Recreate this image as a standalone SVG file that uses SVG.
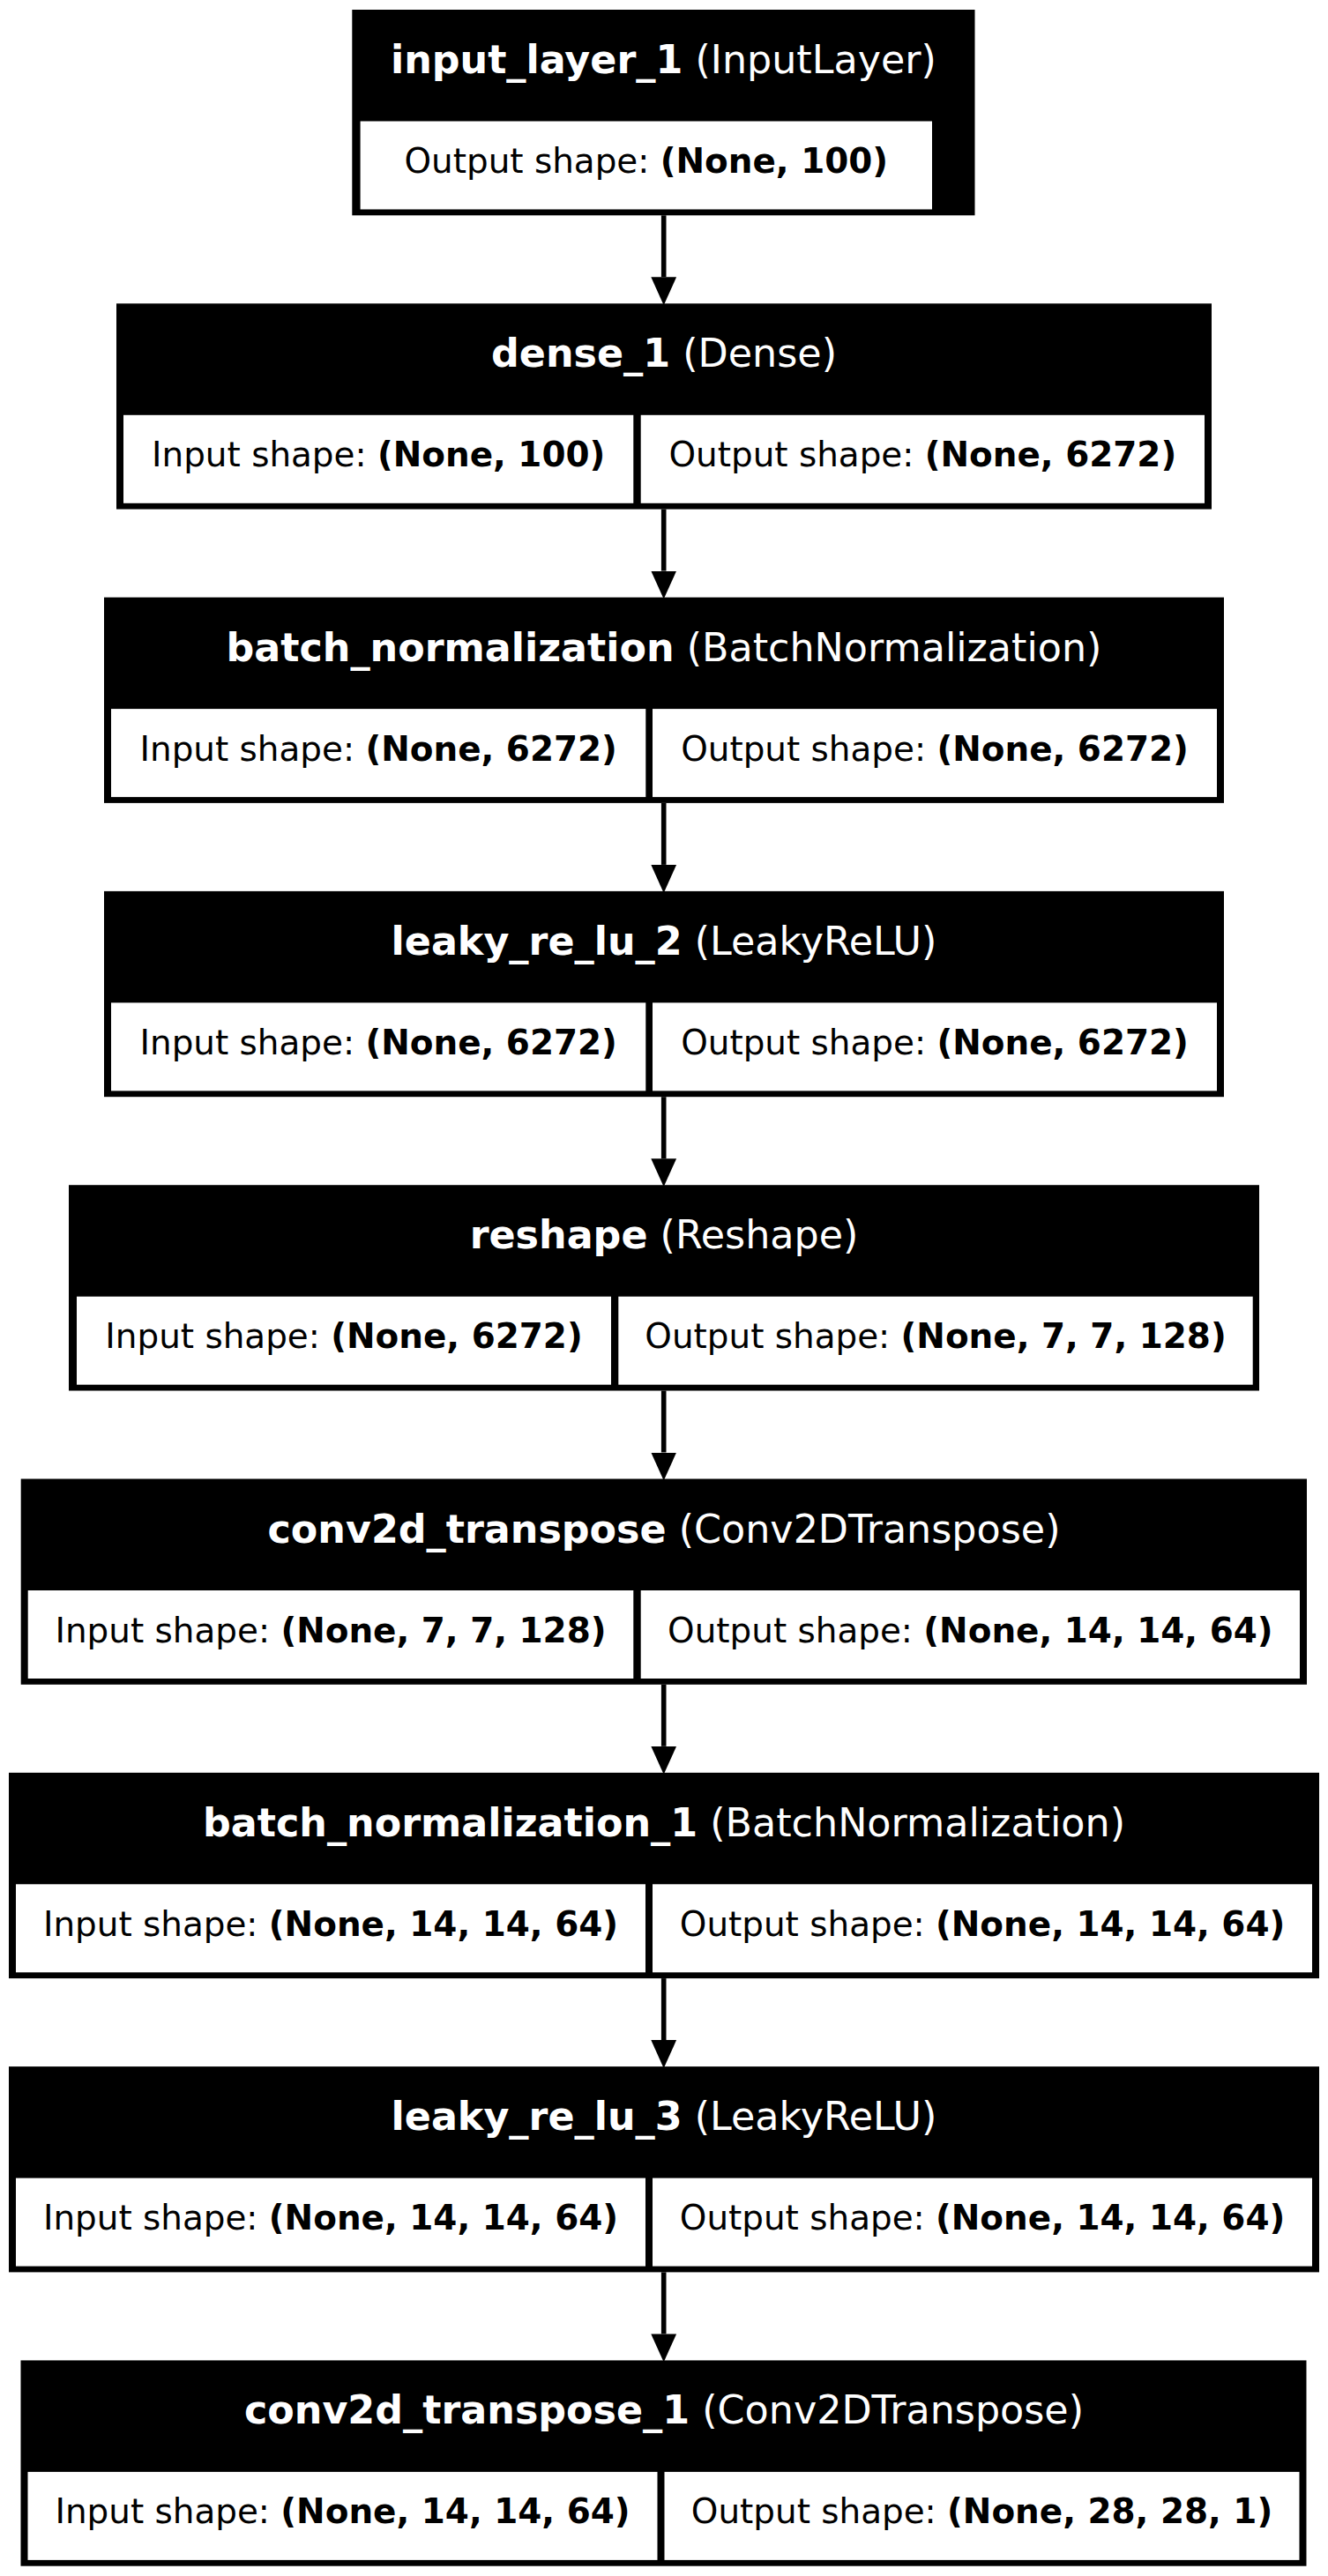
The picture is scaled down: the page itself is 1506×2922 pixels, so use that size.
<svg xmlns="http://www.w3.org/2000/svg" width="1506" height="2922" viewBox="0 0 1506 2922">
<style>
.bg{fill:#000}
.cell{fill:#fff}
.t{font-family:"DejaVu Sans",sans-serif;font-size:44.4px;fill:#fff;text-anchor:middle}
.b{font-family:"DejaVu Sans",sans-serif;font-size:38.9px;fill:#000;text-anchor:middle}
.bold{font-weight:bold}
.edge{stroke:#000;stroke-width:5.6;fill:none}
</style>
<defs>
<marker id="arr" markerUnits="userSpaceOnUse" markerWidth="32" markerHeight="30" refX="0" refY="13.5" orient="auto" viewBox="0 0 30 27">
<path d="M0,0 L30,13.5 L0,27 Z" fill="#000"/>
</marker>
</defs>
<rect width="1506" height="2922" fill="#fff"/>
<g id="edges">
<line class="edge" x1="752.7" y1="244.3" x2="752.7" y2="314.3" marker-end="url(#arr)"/>
<line class="edge" x1="752.7" y1="577.6" x2="752.7" y2="647.6" marker-end="url(#arr)"/>
<line class="edge" x1="752.7" y1="910.9" x2="752.7" y2="980.9" marker-end="url(#arr)"/>
<line class="edge" x1="752.7" y1="1244.2" x2="752.7" y2="1314.2" marker-end="url(#arr)"/>
<line class="edge" x1="752.7" y1="1577.5" x2="752.7" y2="1647.5" marker-end="url(#arr)"/>
<line class="edge" x1="752.7" y1="1910.8" x2="752.7" y2="1980.8" marker-end="url(#arr)"/>
<line class="edge" x1="752.7" y1="2244.1" x2="752.7" y2="2314.1" marker-end="url(#arr)"/>
<line class="edge" x1="752.7" y1="2577.4" x2="752.7" y2="2647.4" marker-end="url(#arr)"/>
</g>
<g id="input_layer_1" transform="translate(0,11)">
<rect class="bg" x="399.3" y="0" width="706.2" height="233.3"/>
<rect class="cell" x="408.6" y="126.5" width="648.4" height="100"/>
<text class="t" x="752.4" y="72"><tspan class="bold">input_layer_1</tspan> (InputLayer)</text>
<text class="b" x="732.8" y="185">Output shape: <tspan class="bold">(None, 100)</tspan></text>
</g>
<g id="dense_1" transform="translate(0,344.3)">
<rect class="bg" x="132" y="0" width="1242" height="233.3"/>
<rect class="cell" x="140" y="126.5" width="578.3" height="100"/>
<rect class="cell" x="726.7" y="126.5" width="639.3" height="100"/>
<text class="t" x="753" y="72"><tspan class="bold">dense_1</tspan> (Dense)</text>
<text class="b" x="429.2" y="185">Input shape: <tspan class="bold">(None, 100)</tspan></text>
<text class="b" x="1046.3" y="185">Output shape: <tspan class="bold">(None, 6272)</tspan></text>
</g>
<g id="batch_normalization" transform="translate(0,677.6)">
<rect class="bg" x="118" y="0" width="1270" height="233.3"/>
<rect class="cell" x="126" y="126.5" width="606.3" height="100"/>
<rect class="cell" x="740" y="126.5" width="640" height="100"/>
<text class="t" x="753" y="72"><tspan class="bold">batch_normalization</tspan> (BatchNormalization)</text>
<text class="b" x="429.2" y="185">Input shape: <tspan class="bold">(None, 6272)</tspan></text>
<text class="b" x="1060" y="185">Output shape: <tspan class="bold">(None, 6272)</tspan></text>
</g>
<g id="leaky_re_lu_2" transform="translate(0,1010.9)">
<rect class="bg" x="118" y="0" width="1270" height="233.3"/>
<rect class="cell" x="126" y="126.5" width="606.3" height="100"/>
<rect class="cell" x="740" y="126.5" width="640" height="100"/>
<text class="t" x="753" y="72"><tspan class="bold">leaky_re_lu_2</tspan> (LeakyReLU)</text>
<text class="b" x="429.2" y="185">Input shape: <tspan class="bold">(None, 6272)</tspan></text>
<text class="b" x="1060" y="185">Output shape: <tspan class="bold">(None, 6272)</tspan></text>
</g>
<g id="reshape" transform="translate(0,1344.2)">
<rect class="bg" x="78" y="0" width="1350" height="233.3"/>
<rect class="cell" x="87" y="126.5" width="606" height="100"/>
<rect class="cell" x="701.3" y="126.5" width="719.4" height="100"/>
<text class="t" x="753" y="72"><tspan class="bold">reshape</tspan> (Reshape)</text>
<text class="b" x="390" y="185">Input shape: <tspan class="bold">(None, 6272)</tspan></text>
<text class="b" x="1061" y="185">Output shape: <tspan class="bold">(None, 7, 7, 128)</tspan></text>
</g>
<g id="conv2d_transpose" transform="translate(0,1677.5)">
<rect class="bg" x="23.7" y="0" width="1458.3" height="233.3"/>
<rect class="cell" x="31.7" y="126.5" width="686.6" height="100"/>
<rect class="cell" x="726.7" y="126.5" width="747.3" height="100"/>
<text class="t" x="753" y="72"><tspan class="bold">conv2d_transpose</tspan> (Conv2DTranspose)</text>
<text class="b" x="375" y="185">Input shape: <tspan class="bold">(None, 7, 7, 128)</tspan></text>
<text class="b" x="1100.3" y="185">Output shape: <tspan class="bold">(None, 14, 14, 64)</tspan></text>
</g>
<g id="batch_normalization_1" transform="translate(0,2010.8)">
<rect class="bg" x="10" y="0" width="1486" height="233.3"/>
<rect class="cell" x="18" y="126.5" width="714" height="100"/>
<rect class="cell" x="740" y="126.5" width="748" height="100"/>
<text class="t" x="753" y="72"><tspan class="bold">batch_normalization_1</tspan> (BatchNormalization)</text>
<text class="b" x="375" y="185">Input shape: <tspan class="bold">(None, 14, 14, 64)</tspan></text>
<text class="b" x="1114" y="185">Output shape: <tspan class="bold">(None, 14, 14, 64)</tspan></text>
</g>
<g id="leaky_re_lu_3" transform="translate(0,2344.1)">
<rect class="bg" x="10" y="0" width="1486" height="233.3"/>
<rect class="cell" x="18" y="126.5" width="714" height="100"/>
<rect class="cell" x="740" y="126.5" width="748" height="100"/>
<text class="t" x="753" y="72"><tspan class="bold">leaky_re_lu_3</tspan> (LeakyReLU)</text>
<text class="b" x="375" y="185">Input shape: <tspan class="bold">(None, 14, 14, 64)</tspan></text>
<text class="b" x="1114" y="185">Output shape: <tspan class="bold">(None, 14, 14, 64)</tspan></text>
</g>
<g id="conv2d_transpose_1" transform="translate(0,2677.4)">
<rect class="bg" x="23.5" y="0" width="1458" height="233.3"/>
<rect class="cell" x="31.5" y="126.5" width="714" height="100"/>
<rect class="cell" x="753.5" y="126.5" width="720" height="100"/>
<text class="t" x="753" y="72"><tspan class="bold">conv2d_transpose_1</tspan> (Conv2DTranspose)</text>
<text class="b" x="388.5" y="185">Input shape: <tspan class="bold">(None, 14, 14, 64)</tspan></text>
<text class="b" x="1113.5" y="185">Output shape: <tspan class="bold">(None, 28, 28, 1)</tspan></text>
</g>
</svg>
